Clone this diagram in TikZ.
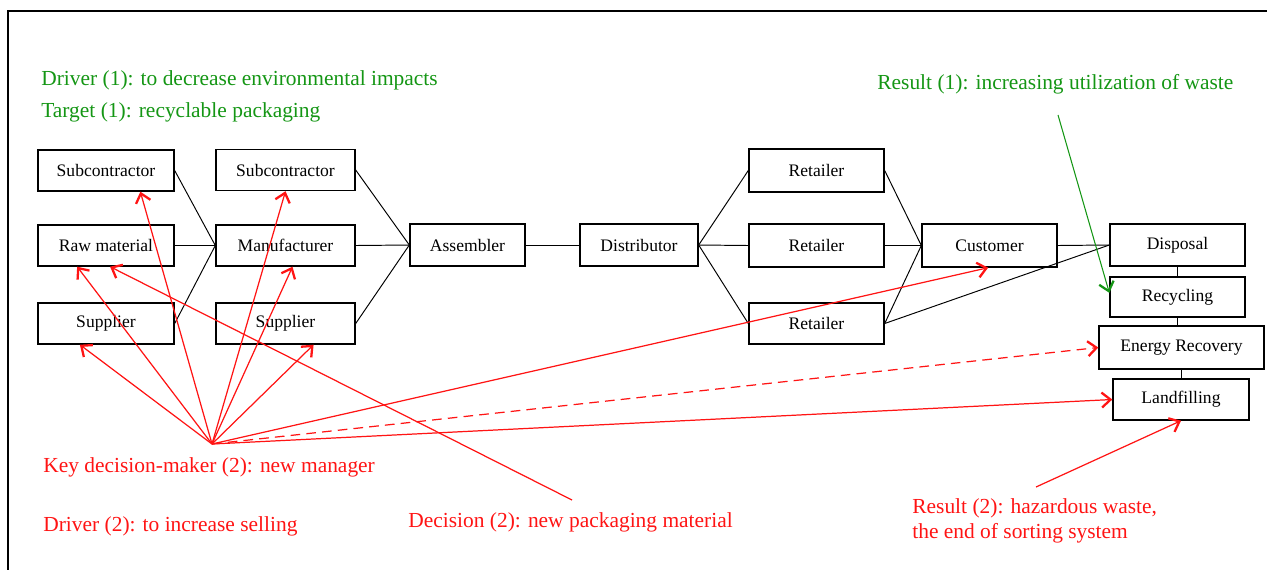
\documentclass[tikz,border=0pt]{standalone}
\usepackage{fontspec}
\setmainfont{Liberation Serif}
\usetikzlibrary{arrows.meta,calc}

\definecolor{resgreen}{RGB}{20,150,20}
\definecolor{resred}{RGB}{255,20,20}

\tikzset{
  chainbox/.style={draw, line width=0.8pt, fill=white, inner sep=0pt,
    minimum width=2.72cm, minimum height=0.82cm, font=\fontsize{10}{12}\selectfont},
  link/.style={draw, line width=0.55pt},
  note/.style={anchor=west, inner sep=0pt, font=\fontsize{12.2}{14.2}\selectfont},
  redarrow/.style={draw=resred, line width=0.7pt,
    -{Straight Barb[length=5pt,width=8.5pt,line width=1.3pt]}},
  greenarrow/.style={draw=resgreen, line width=0.6pt,
    -{Straight Barb[length=5pt,width=8.5pt,line width=1.3pt]}},
}

\begin{document}
\begin{tikzpicture}[x=0.02cm,y=-0.02cm]
  \useasboundingbox (0,0) rectangle (1267,569);

  % frame
  \draw[line width=1.4pt] (8,575) -- (8,11) -- (1275,11);

  % supply chain boxes
  \node[chainbox] (sub1) at (106,170.5) {Subcontractor};
  \node[chainbox] (raw)  at (106,245.5) {Raw material};
  \node[chainbox] (sup1) at (106,323.5) {Supplier};
  \node[chainbox, minimum width=2.78cm] (sub2) at (285.5,170) {Subcontractor};
  \node[chainbox, minimum width=2.78cm] (man)  at (285.5,245.5) {Manufacturer};
  \node[chainbox, minimum width=2.78cm] (sup2) at (285.5,323.5) {Supplier};
  \node[chainbox, minimum width=2.3cm, minimum height=0.84cm] (asm) at (467.5,245) {Assembler};
  \node[chainbox, minimum width=2.36cm, minimum height=0.84cm] (dist) at (639,245) {Distributor};
  \node[chainbox, minimum width=2.7cm, minimum height=0.86cm] (ret1) at (816.5,170.5) {Retailer};
  \node[chainbox, minimum width=2.7cm, minimum height=0.86cm] (ret2) at (816.5,245.5) {Retailer};
  \node[chainbox, minimum width=2.7cm] (ret3) at (816.5,323.5) {Retailer};
  \node[chainbox, minimum width=2.7cm, minimum height=0.86cm] (cust) at (989.5,245.5) {Customer};
  \node[chainbox, minimum width=2.7cm, minimum height=0.84cm] (disp) at (1177.5,245) {Disposal};
  \node[chainbox, minimum width=2.7cm, minimum height=0.8cm] (recy) at (1177.5,297) {Recycling};
  \node[chainbox, minimum width=3.3cm, minimum height=0.86cm] (ener) at (1181.5,347.5) {Energy Recovery};
  \node[chainbox] (land) at (1181,399.5) {Landfilling};

  % material flow
  \path[link] (sub1.east) -- (man.west);
  \path[link] (raw.east)  -- (man.west);
  \path[link] (sup1.east) -- (man.west);
  \path[link] (sub2.east) -- (asm.west);
  \path[link] (man.east)  -- (asm.west);
  \path[link] (sup2.east) -- (asm.west);
  \path[link] (asm.east)  -- (dist.west);
  \path[link] (dist.east) -- (ret1.west);
  \path[link] (dist.east) -- (ret2.west);
  \path[link] (dist.east) -- (ret3.west);
  \path[link] (ret1.east) -- (cust.west);
  \path[link] (ret2.east) -- (cust.west);
  \path[link] (ret3.east) -- (cust.west);
  \path[link] (ret3.east) -- (disp.west);
  \path[link] (cust.east) -- (disp.west);
  \path[link] (disp.south) -- (disp.south |- recy.north);
  \path[link] (recy.south) -- (recy.south |- ener.north);
  \path[link] (land.north) -- (land.north |- ener.south);

  % first change: green notes
  \node[note, text=resgreen] (drv1) at (41,80)  {Driver (1): to decrease environmental impacts};
  \node[note, text=resgreen] (tgt1) at (41,112) {Target (1): recyclable packaging};
  \node[note, text=resgreen] (res1) at (877,84) {Result (1): increasing utilization of waste};
  \coordinate (res1tail) at (1058,115);
  \path[greenarrow] (res1tail) -- ($(recy.north west)!0.4!(recy.south west)$);

  % second change: red notes
  \node[note, text=resred] (kdm2) at (43,467) {Key decision-maker (2): new manager};
  \node[note, text=resred] (drv2) at (43,526) {Driver (2): to increase selling};
  \node[note, text=resred] (dec2) at (408,522) {Decision (2): new packaging material};
  \node[note, text=resred, align=left] (res2) at (912,521)
    {Result (2): hazardous waste,\\the end of sorting system};

  \coordinate (K) at (212,444);
  \path[redarrow] (K) -- ($(sup1.south west)!0.31!(sup1.south east)$);
  \path[redarrow] (K) -- ($(raw.south west)!0.29!(raw.south east)$);
  \path[redarrow] (K) -- ($(sub1.south west)!0.75!(sub1.south east)$);
  \path[redarrow] (K) -- ($(sub2.south west)!0.50!(sub2.south east)$);
  \path[redarrow] (K) -- ($(man.south west)!0.55!(man.south east)$);
  \path[redarrow] (K) -- ($(sup2.south west)!0.70!(sup2.south east)$);
  \path[redarrow] (K) -- ($(cust.south west)!0.49!(cust.south east)$);
  \path[redarrow, dashed, dash pattern=on 5.5pt off 3.5pt] (K) -- (ener.west);
  \path[redarrow] (K) -- (land.west);

  \coordinate (dec2tail) at (572,500);
  \path[redarrow] (dec2tail) -- ($(raw.south west)!0.53!(raw.south east)$);

  \coordinate (res2tail) at (1036,487);
  \path[redarrow] (res2tail) -- (land.south);
\end{tikzpicture}
\end{document}
